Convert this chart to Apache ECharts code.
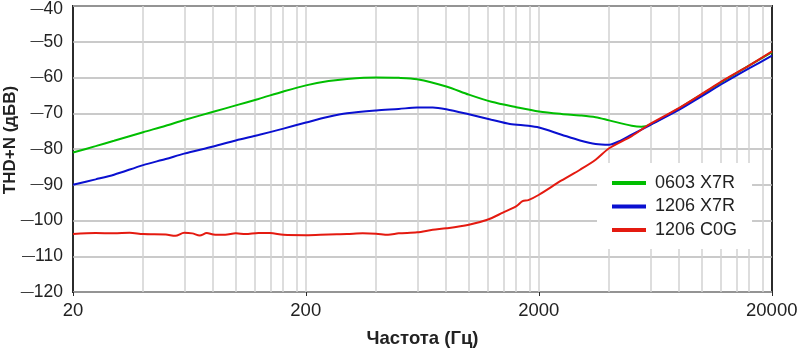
<!DOCTYPE html>
<html>
<head>
<meta charset="utf-8">
<script src="https://cdn.jsdelivr.net/npm/echarts@6/dist/echarts.min.js"></script>
<style>
  html, body { margin: 0; padding: 0; background: #fff; }
  #chart { width: 800px; height: 348px; }
</style>
</head>
<body>
<div id="chart"></div>
<script>
// frequency (Hz) / THD+N (dBV)
const greenFreq = [20, 25, 30, 40, 50, 60, 80, 100, 125, 160, 200, 250, 300, 400, 500, 600, 800, 1000, 1250, 1600, 2000, 2500, 3000, 3500, 4000, 5000, 5500, 6000, 8000, 10000, 12500, 16000, 20000]
const greenVal  = [-81, -79.2, -77.7, -75.3, -73.5, -71.9, -69.6, -67.8, -66.0, -63.9, -62.2, -61.0, -60.4, -60.0, -60.1, -60.5, -62.5, -64.8, -66.8, -68.3, -69.5, -70.2, -70.6, -71.1, -72.0, -73.5, -73.8, -73.2, -68.6, -64.7, -60.8, -56.6, -52.9]

const blueFreq = [20, 25, 30, 40, 50, 60, 80, 100, 125, 160, 200, 250, 300, 400, 500, 600, 700, 800, 1000, 1250, 1500, 1800, 2000, 2500, 3000, 3500, 4000, 4500, 5000, 6000, 8000, 10000, 12500, 16000, 20000]
const blueVal  = [-90, -88.5, -87.2, -84.5, -82.8, -81.3, -79.3, -77.6, -76.1, -74.3, -72.6, -71.0, -70.0, -69.2, -68.8, -68.4, -68.4, -68.9, -70.3, -71.8, -73.0, -73.5, -74.0, -76.0, -77.6, -78.6, -78.8, -77.6, -76.0, -73.3, -69.0, -65.2, -61.4, -57.4, -53.9]

const redFreq = [20, 25, 30, 35, 40, 50, 55, 60, 65, 70, 75, 80, 90, 100, 110, 125, 140, 160, 200, 250, 300, 350, 400, 450, 500, 600, 700, 800, 1000, 1200, 1400, 1600, 1700, 1800, 2000, 2500, 3000, 3500, 4000, 5000, 6000, 8000, 10000, 12500, 16000, 20000]
const redVal  = [-103.8, -103.5, -103.6, -103.4, -103.8, -103.9, -104.3, -103.4, -103.6, -104.2, -103.5, -103.9, -104.0, -103.6, -103.8, -103.5, -103.5, -104.0, -104.1, -103.9, -103.8, -103.6, -103.7, -104.0, -103.6, -103.3, -102.6, -102.2, -101.2, -99.8, -97.8, -96.0, -94.6, -94.3, -92.8, -88.8, -85.8, -83.0, -79.8, -76.4, -73.0, -68.5, -64.6, -60.6, -56.6, -52.7]

const seriesNames = ['0603 X7R', '1206 X7R', '1206 C0G']
const xTickLabels = ['20', '200', '2000', '20000']
const xMin = 20, xMax = 20000
const yMin = -120, yMax = -40
const gridFreqs = [40, 60, 80, 100, 120, 140, 160, 180, 200, 400, 600, 800, 1000, 1200, 1400, 1600, 1800, 2000, 4000, 6000, 8000, 10000, 12000, 14000, 16000, 18000]

const lg = v => Math.log10(v)
const pairs = (f, v) => f.map((x, i) => [lg(x), v[i]])

const font = '"Liberation Sans", Arial, sans-serif'
const txt = '#222'

const chart = echarts.init(document.getElementById('chart'), null, { renderer: 'canvas' })

const lineSeries = (name, f, v, color) => ({
  name, type: 'line', data: pairs(f, v), symbol: 'none', smooth: 0.3, z: 3,
  lineStyle: { color, width: 2 }, itemStyle: { color }
})

// long dash for the minus sign, like the reference
const dash = { fontFamily: font, fontSize: 13, color: txt }
const num = { fontFamily: font, fontSize: 17.5, color: txt }

chart.setOption({
  animation: false,
  backgroundColor: '#fff',
  grid: {
    left: 73, right: 28, top: 6, bottom: 56, outerBoundsMode: 'none', containLabel: false,
    show: true, borderColor: '#2b2b2b', borderWidth: 2, backgroundColor: '#fff'
  },
  xAxis: {
    type: 'value', min: lg(xMin), max: lg(xMax), interval: 1,
    name: 'Частота (Гц)', nameLocation: 'middle', nameGap: 37, nameMoveOverlap: false,
    nameTextStyle: { fontFamily: font, fontSize: 18.5, fontWeight: 'bold', color: txt },
    axisLine: { show: false },
    axisTick: { show: true, length: 4, inside: false, lineStyle: { color: '#2b2b2b' } },
    splitLine: { show: false },
    axisLabel: {
      fontFamily: font, fontSize: 18.5, color: txt, margin: 9,
      formatter: (v, i) => xTickLabels[i]
    }
  },
  yAxis: {
    type: 'value', min: yMin, max: yMax, interval: 10,
    name: 'THD+N (дБВ)', nameLocation: 'middle', nameGap: 54, nameMoveOverlap: false,
    nameTextStyle: { fontFamily: font, fontSize: 17, fontWeight: 'bold', color: txt, padding: [0, 0, 0, 18] },
    axisLine: { show: false },
    axisTick: { show: false },
    splitLine: { lineStyle: { color: '#b8b8b8', width: 1.5 } },
    axisLabel: {
      margin: 10,
      formatter: v => {
        const t = v === yMax ? 't' : ''
        return (v < 0 ? '{m' + t + '|\u2014}' : '') + '{n' + t + '|' + Math.abs(v) + '}'
      },
      rich: {
        m: dash, n: num,
        mt: { ...dash, padding: [7, 0, 0, 0] },
        nt: { ...num, padding: [7, 0, 0, 0] }
      }
    }
  },
  legend: {
    orient: 'vertical', left: 597, top: 163, z: 10,
    padding: [11, 15, 10, 15], itemGap: 5.5,
    backgroundColor: '#fff',
    itemWidth: 34, itemHeight: 4, icon: 'rect',
    textStyle: { fontFamily: font, fontSize: 18, color: txt, padding: [0, 0, 0, 4] },
    data: seriesNames
  },
  series: [
    {
      name: 'grid', type: 'line', data: [], z: 1, silent: true,
      markLine: {
        z: 1, silent: true, symbol: 'none', animation: false,
        label: { show: false },
        lineStyle: { color: '#d2d2d2', type: 'solid', width: 1.5 },
        data: gridFreqs.map(f => ({ xAxis: lg(f) }))
      }
    },
    lineSeries(seriesNames[0], greenFreq, greenVal, '#00be00'),
    lineSeries(seriesNames[1], blueFreq, blueVal, '#0a10d0'),
    lineSeries(seriesNames[2], redFreq, redVal, '#e41a10')
  ]
})
</script>
</body>
</html>
